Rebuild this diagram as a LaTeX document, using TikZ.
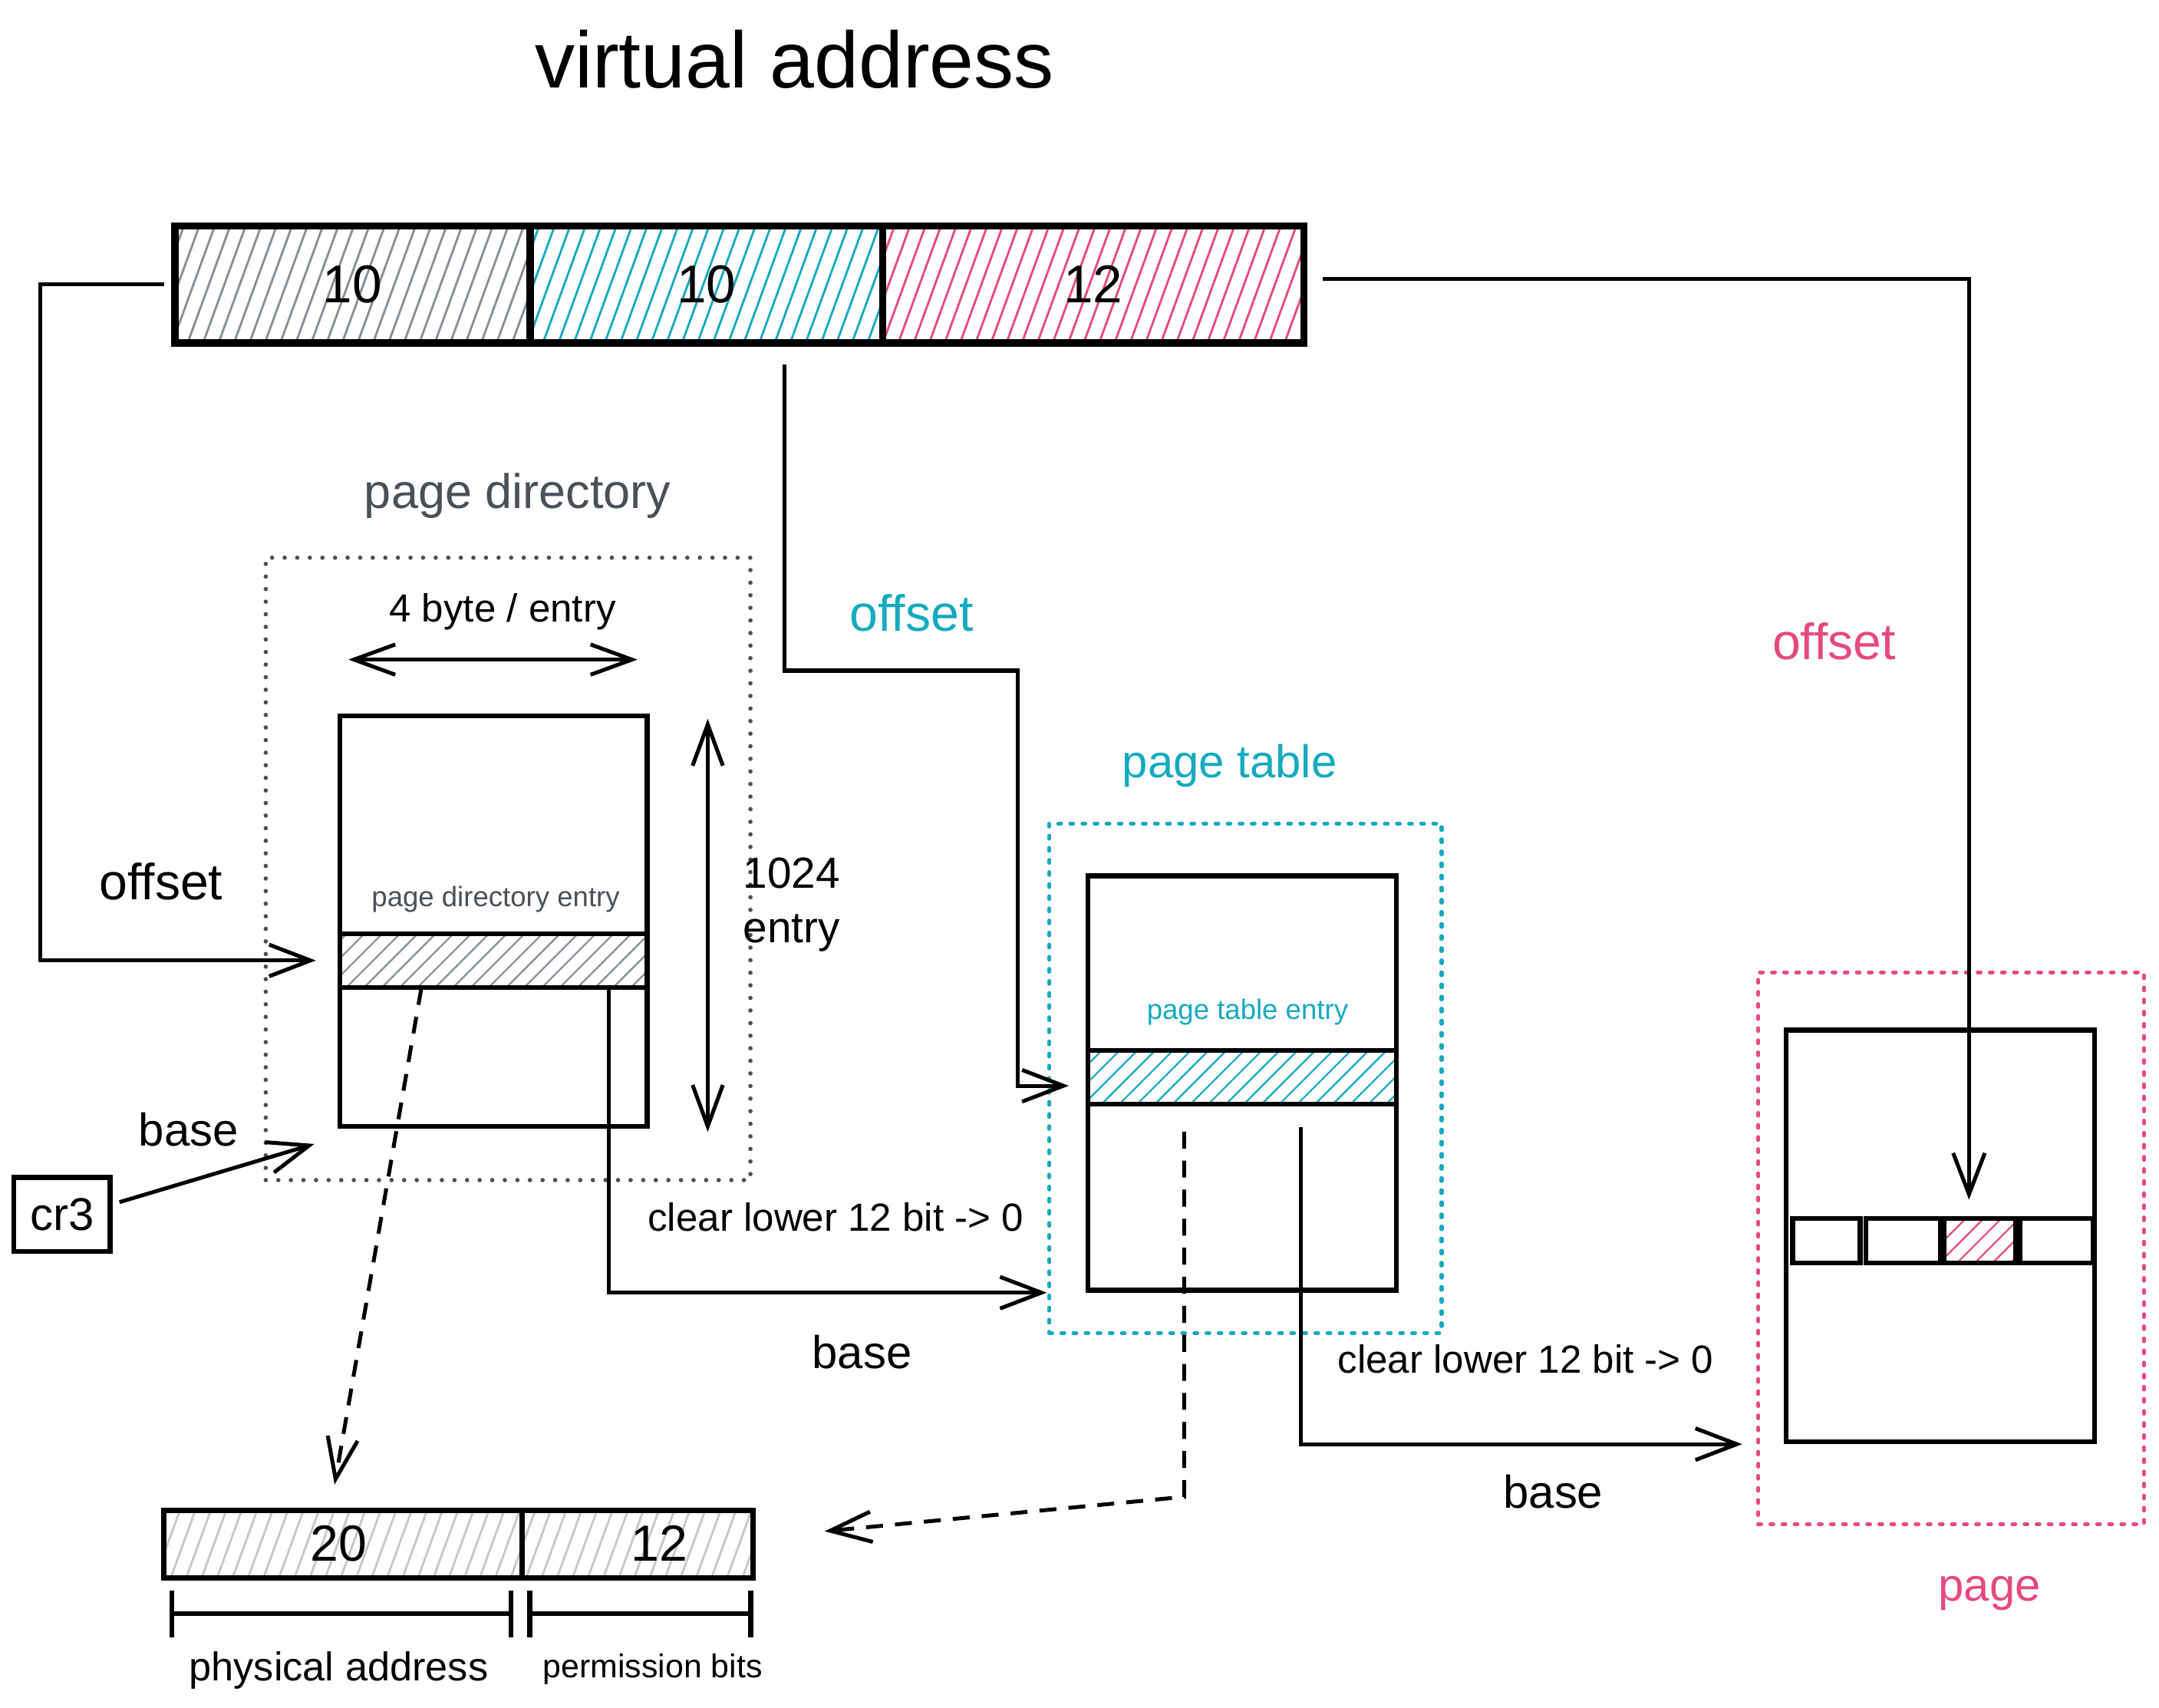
\documentclass[tikz,border=0pt]{standalone}
\usepackage{fontspec}
\setmainfont{Liberation Sans}
\usetikzlibrary{arrows.meta,patterns.meta}
\definecolor{inkgray}{HTML}{495057}
\definecolor{hatchgray}{HTML}{868E96}
\definecolor{palegray}{HTML}{C3C8CE}
\definecolor{tblcyan}{HTML}{15AABF}
\definecolor{pgpink}{HTML}{E64980}
\begin{document}
\begin{tikzpicture}[x=0.1mm,y=-0.1mm]
\tikzset{
  field/.style={draw, line width=1.5pt, inner sep=0pt, minimum height=8.5mm, font=\fontsize{11}{13}\selectfont},
  tbl/.style={draw, line width=1pt, inner sep=0pt, minimum width=22.3mm},
  entrybox/.style={draw, line width=1pt, inner sep=0pt, minimum width=22.3mm, minimum height=3.9mm},
  wordbox/.style={draw, line width=1pt, inner sep=0pt, minimum height=3.2mm},
  dotbox/.style={draw=inkgray, line width=0.9pt, dash pattern=on 0pt off 2.6pt, line cap=round, inner sep=0pt},
  dashbox/.style={draw=#1, line width=0.8pt, dash pattern=on 0.6pt off 1.9pt, line cap=round, inner sep=0pt},
  hatch/.style={pattern={Lines[angle=70,distance=3pt,line width=0.45pt]}, pattern color=#1},
  slant/.style={pattern={Lines[angle=45,distance=2.6pt,line width=0.35pt]}, pattern color=#1},
  conn/.style={line width=0.8pt, -{Straight Barb[length=3mm,width=2.3mm]}},
  twoway/.style={line width=0.8pt, {Straight Barb[length=3mm,width=2.2mm]}-{Straight Barb[length=3mm,width=2.2mm]}},
  lookup/.style={line width=0.8pt, dash pattern=on 3.5pt off 2.5pt, -{Straight Barb[length=3mm,width=2.2mm]}},
  span/.style={line width=1pt, {Bar[width=3.4mm]}-{Bar[width=3.4mm]}},
  lbl/.style={font=\fontsize{9.5}{11}\selectfont},
  note/.style={font=\fontsize{8.1}{9.5}\selectfont},
  tiny/.style={font=\fontsize{5.8}{7}\selectfont},
}
\useasboundingbox (0,0) rectangle (1568,1240);

\node[font=\fontsize{16.5}{19}\selectfont] (title) at (577,43) {virtual address};
\node[field, hatch=hatchgray, minimum width=25.8mm] (va1) at (256,206.5) {10};
\node[field, hatch=tblcyan, minimum width=25.6mm] (va2) at (513,206.5) {10};
\node[field, hatch=pgpink, minimum width=30.6mm] (va3) at (794,206.5) {12};

\node[lbl, text=inkgray, font=\fontsize{10}{12}\selectfont] (pdname) at (376,360) {page directory};
\node[dotbox, minimum width=35.2mm, minimum height=45.2mm] (pdreg) at (369,631) {};
\node[tbl, minimum height=29.8mm] (pdt) at (358.5,669) {};
\node[entrybox, slant=hatchgray] (pde) at (358.5,697.5) {};
\node[tiny, text=inkgray] (pdelbl) at (360,653) {page directory entry};
\node[note] (widthlbl) at (365,444) {4 byte / entry};
\coordinate (wl) at (253,479);
\coordinate (wr) at (463,479);
\draw[twoway] (wl) -- (wr);
\coordinate (ht) at (514,522);
\coordinate (hb) at (514,822);
\draw[twoway] (ht) -- (hb);
\node[anchor=west, align=left, inner sep=0pt, font=\fontsize{9}{11.4}\selectfont] (countlbl) at (539,657) {1024\\entry};

\node[lbl, font=\fontsize{10.5}{12}\selectfont] (off1) at (117,640) {offset};
\draw[conn] ([xshift=-0.7mm]va1.west) -- ++(-9mm,0) |- ([xshift=-1.7mm]pde.west);

\node[draw, line width=1pt, minimum width=7mm, minimum height=5.4mm, inner sep=0pt, lbl] (cr3) at (45,882) {cr3};
\node[lbl] (base1) at (137,820) {base};
\draw[conn] ([xshift=0.5mm,yshift=0.9mm]cr3.east) -- ([xshift=-1.7mm,yshift=-1.1mm]pdt.south west);

\node[lbl, text=tblcyan] (ptname) at (893,556) {page table};
\node[dashbox=tblcyan, minimum width=28.5mm, minimum height=37mm] (ptreg) at (904.5,783) {};
\node[tbl, minimum height=30.1mm, minimum width=22.4mm] (ptt) at (902,786.5) {};
\node[entrybox, minimum width=22.4mm, slant=tblcyan] (pte) at (902,782.5) {};
\node[tiny, text=tblcyan] (ptelbl) at (906,735) {page table entry};

\node[lbl, text=tblcyan, font=\fontsize{10.5}{12}\selectfont] (off2) at (662,445) {offset};
\coordinate (mid) at (739,487);
\draw[conn] ([xshift=5.7mm,yshift=-1.3mm]va2.south) |- (mid) |- ([xshift=-1.2mm,yshift=-0.6mm]pte.west);

\node[note] (clr1) at (607,884) {clear lower 12 bit -> 0};
\node[lbl] (base2) at (626,982) {base};
\draw[conn] ([xshift=8.35mm]pde.south) |- ([xshift=-2.8mm]ptt.south west);

\node[lbl, text=pgpink, font=\fontsize{10.5}{12}\selectfont] (off3) at (1332,466) {offset};
\node[dashbox=pgpink, minimum width=28mm, minimum height=40.1mm] (pgreg) at (1417,906.5) {};
\node[tbl, minimum width=22.4mm, minimum height=29.9mm] (pgr) at (1409,897.5) {};
\node[wordbox, minimum width=4.9mm] (pw1) at (1326.5,901) {};
\node[wordbox, minimum width=5.4mm] (pw2) at (1382,901) {};
\node[wordbox, minimum width=5.2mm, slant=pgpink] (pw3) at (1438,901) {};
\node[wordbox, minimum width=5.3mm] (pw4) at (1493.5,901) {};
\node[lbl, text=pgpink] (pgname) at (1445,1157) {page};
\draw[conn] ([xshift=1.1mm,yshift=0.4mm]va3.east) -| ([xshift=-0.8mm,yshift=1.2mm]pw3.north);

\node[note] (clr2) at (1108,987) {clear lower 12 bit -> 0};
\node[lbl] (base3) at (1128,1083) {base};
\draw[conn] ([xshift=4.3mm,yshift=-1.5mm]pte.south) |- ([xshift=-3mm]pgr.south west);

\node[draw, line width=1.1pt, inner sep=0pt, hatch=palegray, minimum width=26mm, minimum height=4.9mm] (pa1) at (249,1121.5) {};
\node[draw, line width=1.1pt, inner sep=0pt, hatch=palegray, minimum width=16.8mm, minimum height=4.9mm] (pa2) at (463,1121.5) {};
\node[font=\fontsize{10.5}{12}\selectfont] (pa1lbl) at (246,1121) {20};
\node[font=\fontsize{10.5}{12}\selectfont] (pa2lbl) at (479,1121) {12};
\draw[lookup] ([xshift=-5.25mm]pde.south) -- ([xshift=-0.6mm,yshift=1.7mm]pa1.north);
\coordinate (dk) at (860,1087);
\draw[lookup] ([xshift=-4.2mm,yshift=-1.8mm]pte.south) -- (dk) -- ([xshift=5mm,yshift=0.95mm]pa2.east);

\draw[span] ([xshift=0.6mm,yshift=-2.4mm]pa1.south west) -- ([xshift=-0.8mm,yshift=-2.4mm]pa1.south east);
\draw[span] ([xshift=0.6mm,yshift=-2.4mm]pa2.south west) -- ([xshift=-0.2mm,yshift=-2.4mm]pa2.south east);
\node[font=\fontsize{8.3}{10}\selectfont] (palbl) at (246,1213) {physical address};
\node[font=\fontsize{6.8}{8}\selectfont] (pblbl) at (474,1212) {permission bits};
\end{tikzpicture}
\end{document}
